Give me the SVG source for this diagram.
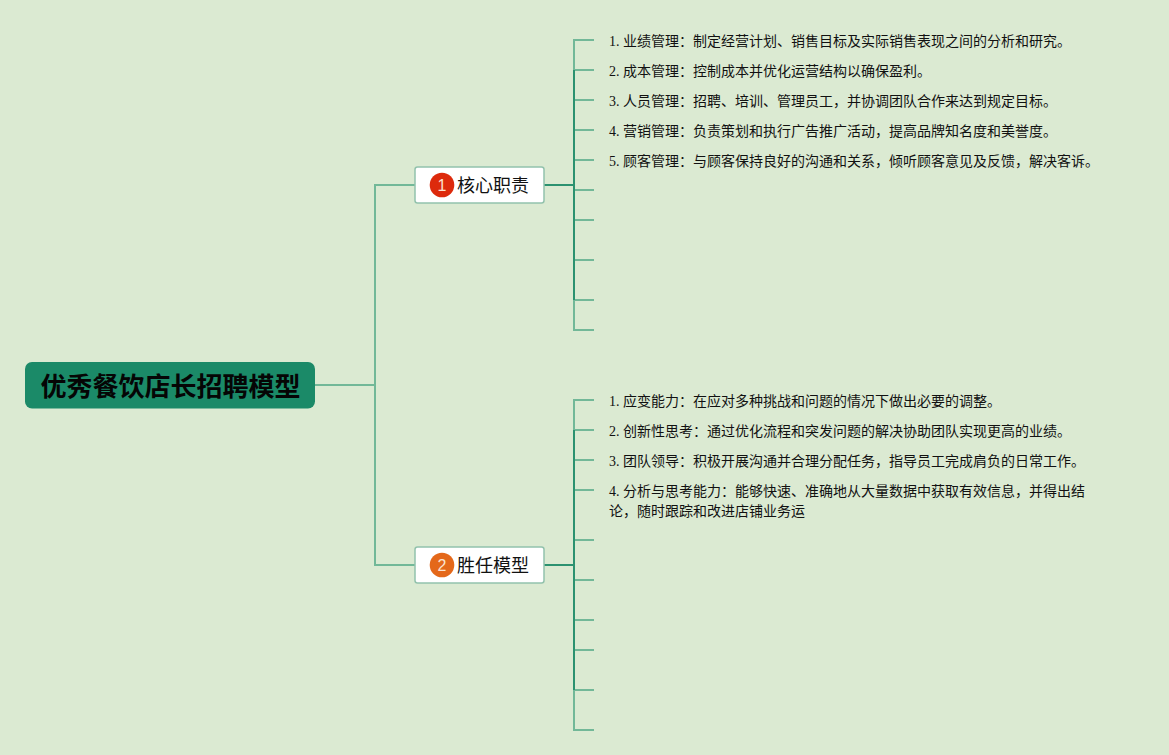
<svg xmlns="http://www.w3.org/2000/svg" width="1169" height="755" viewBox="0 0 1169 755">
<style>
.c{fill:none;stroke:#72b898;stroke-width:2}
.d{fill:none;stroke:#2c9270;stroke-width:2}
.t{font-family:"Liberation Serif","Noto Sans CJK SC",serif;font-size:14px;fill:#111}
.b{font-family:"Liberation Sans","Noto Sans CJK SC",sans-serif;font-size:18px;fill:#111}
.n{font-family:"Liberation Sans",sans-serif;font-size:16px;fill:#fbe3d0;text-anchor:middle}
.box{fill:#fff;stroke:#93c2ad;stroke-width:1.5}
</style>
<rect width="1169" height="755" fill="#dbead2"/>
<g id="connectors">
<path class="c" d="M315 385H375M415 185H375V565H415"/>
<path class="d" d="M544 185H574M544 565H574"/>
<path class="c" d="M594 40H574V330H594M574 70H594M574 100H594M574 130H594M574 160H594M574 190H594M574 220H594M574 260H594M574 300H594"/>
<path class="c" d="M594 400H574V730H594M574 430H594M574 460H594M574 490H594M574 540H594M574 580H594M574 620H594M574 650H594M574 690H594"/>
<path class="d" d="M574 70V300M574 430V690"/>
</g>
<g id="root">
<rect x="25" y="362" width="290" height="46.500" rx="7" fill="#1b8a68"/>
<text x="170.500" y="396" text-anchor="middle" font-family="'Liberation Sans','Noto Sans CJK SC',sans-serif" font-size="26" font-weight="700" fill="#050505">优秀餐饮店长招聘模型</text>
</g>
<g id="node1">
<rect class="box" x="415" y="167" width="129" height="36" rx="2.500"/>
<circle cx="442" cy="185" r="12.300" fill="#dd2a0c"/>
<text class="n" x="442" y="191">1</text>
<text class="b" x="457" y="192">核心职责</text>
</g>
<g id="node2">
<rect class="box" x="415" y="547" width="129" height="36" rx="2.500"/>
<circle cx="442" cy="565" r="12.300" fill="#e4681a"/>
<text class="n" x="442" y="571">2</text>
<text class="b" x="457" y="572">胜任模型</text>
</g>
<g id="items1">
<text class="t" x="609" y="46">1. 业绩管理：制定经营计划、销售目标及实际销售表现之间的分析和研究。</text>
<text class="t" x="609" y="76">2. 成本管理：控制成本并优化运营结构以确保盈利。</text>
<text class="t" x="609" y="106">3. 人员管理：招聘、培训、管理员工，并协调团队合作来达到规定目标。</text>
<text class="t" x="609" y="136">4. 营销管理：负责策划和执行广告推广活动，提高品牌知名度和美誉度。</text>
<text class="t" x="609" y="166">5. 顾客管理：与顾客保持良好的沟通和关系，倾听顾客意见及反馈，解决客诉。</text>
</g>
<g id="items2">
<text class="t" x="609" y="406">1. 应变能力：在应对多种挑战和问题的情况下做出必要的调整。</text>
<text class="t" x="609" y="436">2. 创新性思考：通过优化流程和突发问题的解决协助团队实现更高的业绩。</text>
<text class="t" x="609" y="466">3. 团队领导：积极开展沟通并合理分配任务，指导员工完成肩负的日常工作。</text>
<text class="t" x="609" y="496">4. 分析与思考能力：能够快速、准确地从大量数据中获取有效信息，并得出结</text>
<text class="t" x="609" y="516">论，随时跟踪和改进店铺业务运</text>
</g>
</svg>
